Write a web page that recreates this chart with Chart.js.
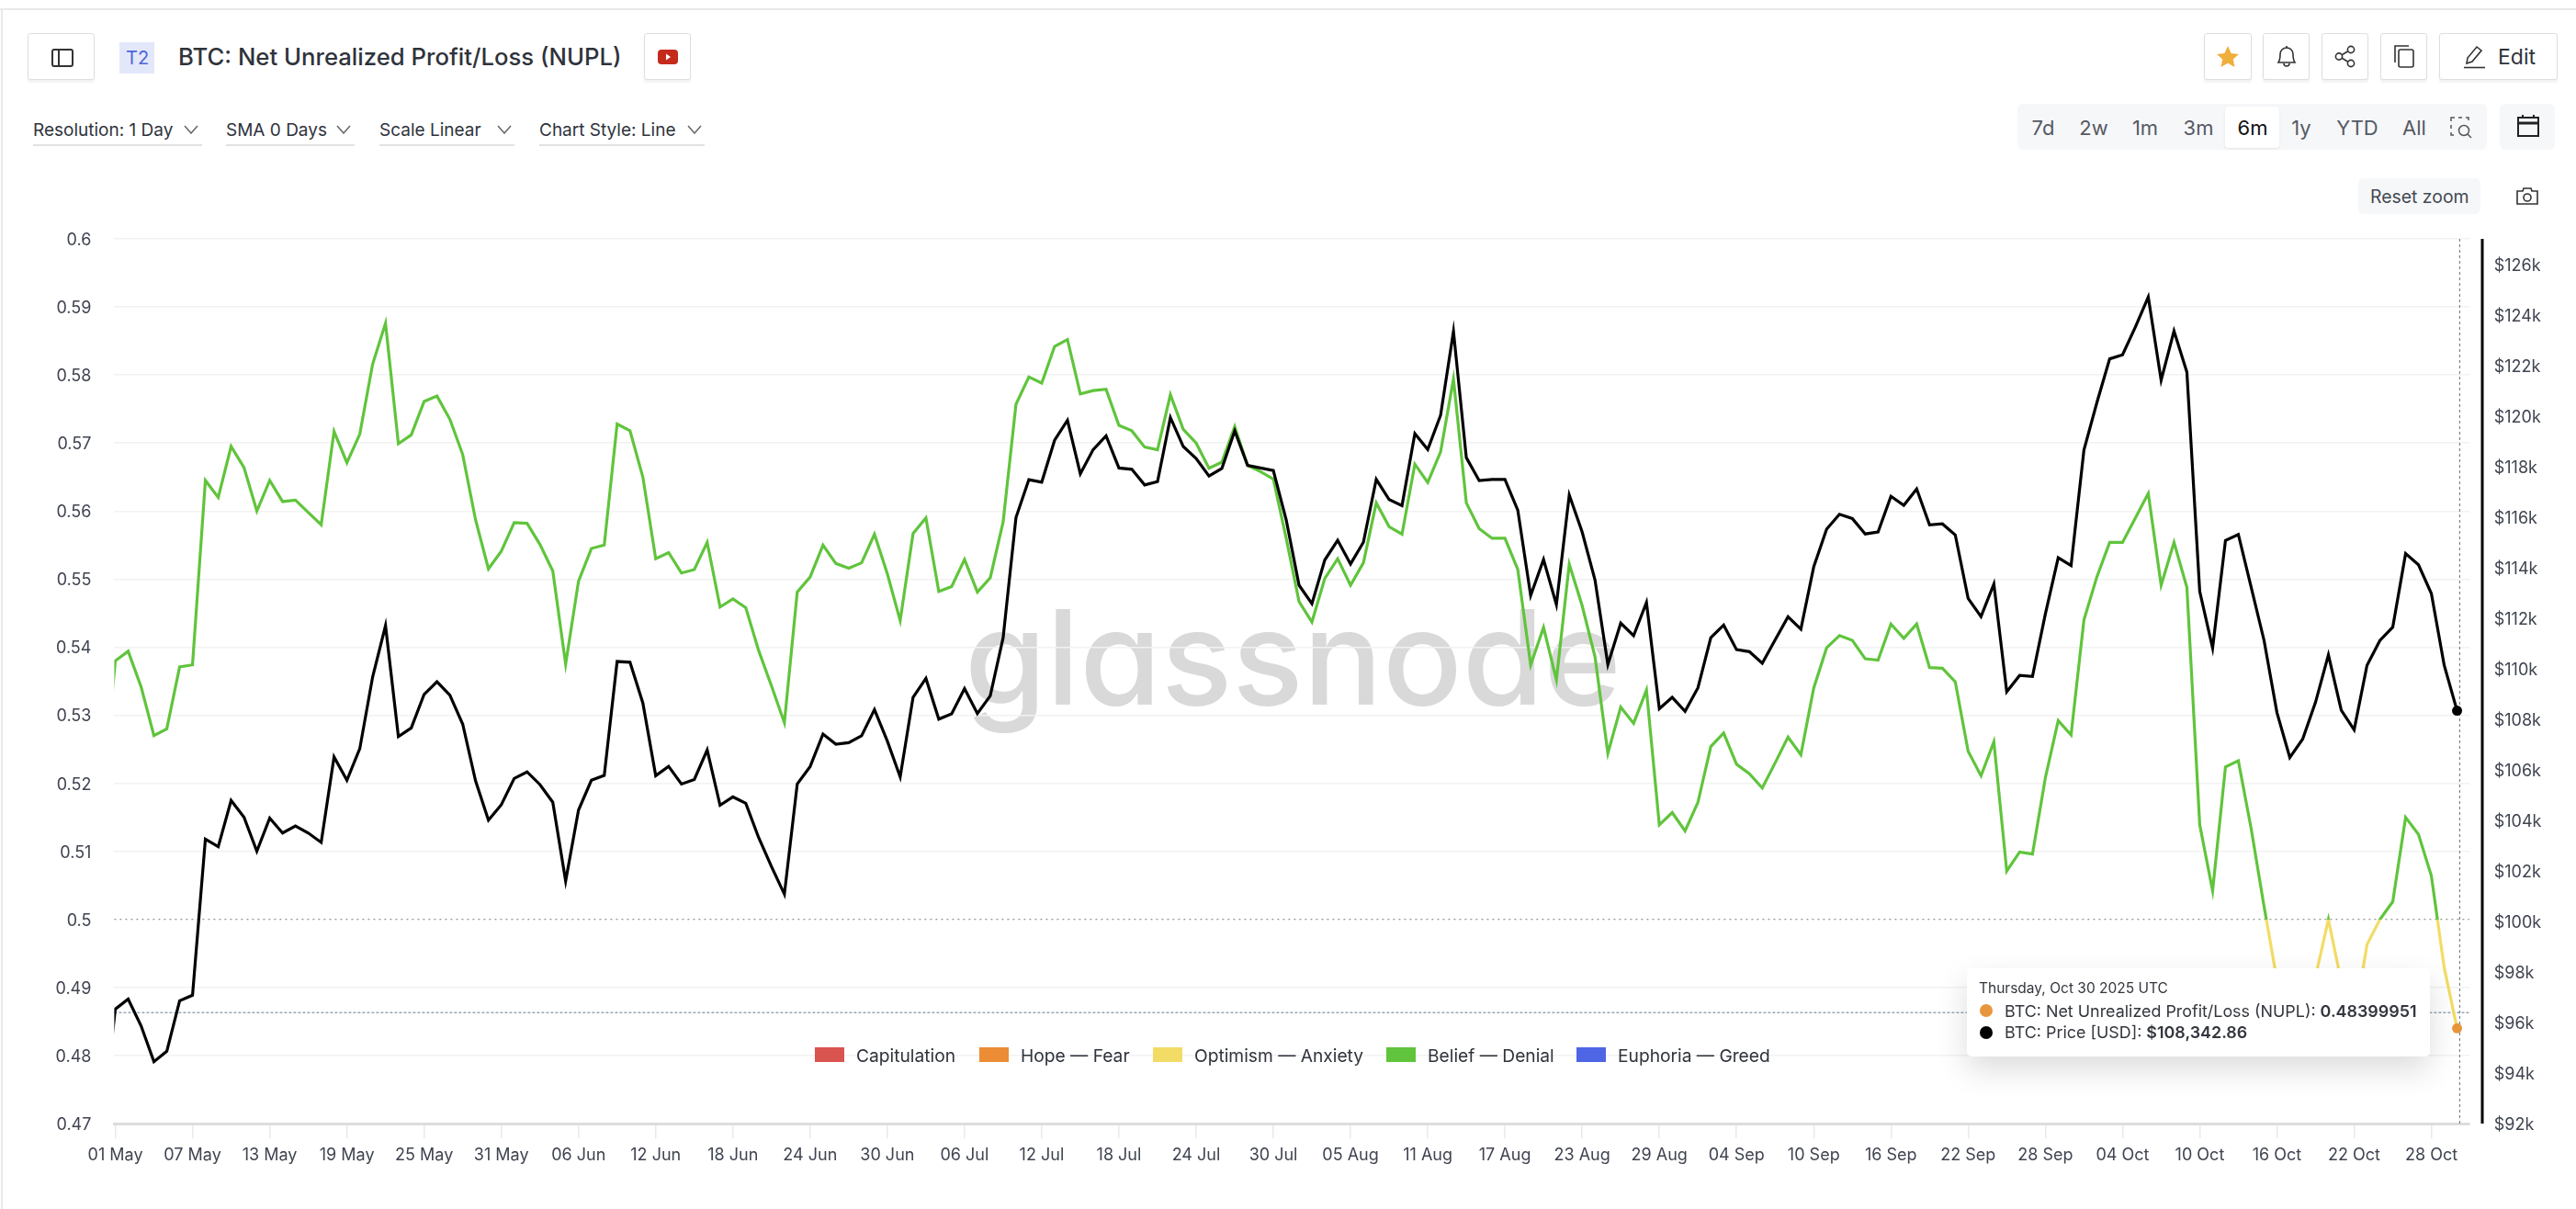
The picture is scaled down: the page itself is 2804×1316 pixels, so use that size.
<!DOCTYPE html>
<html lang="en">
<head>
<meta charset="utf-8">
<title>BTC: Net Unrealized Profit/Loss (NUPL)</title>
<script src="https://cdn.jsdelivr.net/npm/chart.js@4/dist/chart.umd.min.js"></script>
<style>
  html, body { margin: 0; padding: 0; background: #fff; }
  body { position: relative; width: 2804px; height: 1316px; overflow: hidden; font-family: Inter, sans-serif; color: #2f333b; }
  .abs { position: absolute; }
  .txt { position: absolute; white-space: nowrap; line-height: 1; transform: translateY(-50%); }
  #topRule { left: 0; top: 9px; width: 2804px; height: 2px; background: #e9e9e9; }
  #leftRule { left: 1px; top: 10px; width: 2px; height: 1306px; background: #e9e9e9; }
  .btn { position: absolute; top: 36px; height: 51px; box-sizing: border-box; border: 1px solid #dedede; border-radius: 3px; box-shadow: 0 3px 2px #f3f3f3; background: #fff; }
  .btn svg, .grey svg { position: absolute; }
  .grey { position: absolute; background: #f6f7f9; border-radius: 6px; }
  .drop { position: absolute; top: 124px; height: 33px; border-bottom: 2px solid #e2e2e2; }
  .drop span { position: absolute; left: 0; top: 17px; transform: translateY(-50%); font-size: 19px; line-height: 1; white-space: nowrap; }
  .drop svg { position: absolute; top: 12px; }
  .range { font-size: 22px; color: #555a63; transform: translate(-50%, -50%); }
  #rangeOn { left: 2422px; top: 116px; width: 59px; height: 45px; background: #fff; border-radius: 4px; box-shadow: 0 1px 3px #e4e4e4; }
  #watermark { left: 1050px; top: 644px; font-size: 143.6px; font-weight: 500; line-height: 1; color: #d9d9d9; font-feature-settings: "cv11" 1; white-space: nowrap; }
  canvas { position: absolute; left: 0; top: 0; }
  .swatch { position: absolute; top: 1140px; width: 32px; height: 16px; }
  .legend { top: 1150px; font-size: 19.2px; color: #2f333b; }
  #tip { left: 2141px; top: 1054px; width: 504px; height: 96px; background: #fff; border-radius: 5px; box-shadow: 0 14px 34px rgba(0,0,0,.14); }
  #tip .txt { color: #33363d; }
  #tip b { font-weight: 600; }
  .tipDot { position: absolute; width: 14px; height: 14px; border-radius: 50%; left: 14px; }
</style>
</head>
<body>
<div id="topRule" class="abs"></div>
<div id="leftRule" class="abs"></div>

<!-- header, left -->
<div class="btn" style="left:30px;width:73px">
  <svg style="left:25px;top:16px" width="24" height="20" viewBox="0 0 24 20" fill="none" stroke="#333" stroke-width="2"><rect x="1" y="1" width="22" height="18" rx="2"/><line x1="8" y1="1" x2="8" y2="19"/></svg>
</div>
<div class="abs" style="left:130px;top:46px;width:38px;height:34px;background:#e3e7fa"></div>
<div class="txt" style="left:137px;top:63px;font-size:20px;color:#4d65d9">T2</div>
<div class="txt" style="left:194px;top:62px;font-size:25.7px;font-weight:500" id="title">BTC: Net Unrealized Profit/Loss (NUPL)</div>
<div class="btn" style="left:701px;width:51px">
  <svg style="left:14px;top:17px" width="22" height="16" viewBox="0 0 22 16"><rect width="22" height="16" rx="4" fill="#c42b1c"/><path d="M9 4.5 L14 8 L9 11.5 Z" fill="#fff"/></svg>
</div>

<!-- dropdowns -->
<div class="drop" style="left:36px;width:184px"><span>Resolution: 1 Day</span>
  <svg style="left:164px" width="16" height="10" viewBox="0 0 16 10" fill="none" stroke="#666" stroke-width="1.5"><path d="M1 1 L8 9 L15 1"/></svg></div>
<div class="drop" style="left:246px;width:140px"><span>SMA 0 Days</span>
  <svg style="left:120px" width="16" height="10" viewBox="0 0 16 10" fill="none" stroke="#666" stroke-width="1.5"><path d="M1 1 L8 9 L15 1"/></svg></div>
<div class="drop" style="left:413px;width:147px"><span>Scale Linear</span>
  <svg style="left:128px" width="16" height="10" viewBox="0 0 16 10" fill="none" stroke="#666" stroke-width="1.5"><path d="M1 1 L8 9 L15 1"/></svg></div>
<div class="drop" style="left:587px;width:180px"><span>Chart Style: Line</span>
  <svg style="left:161px" width="16" height="10" viewBox="0 0 16 10" fill="none" stroke="#666" stroke-width="1.5"><path d="M1 1 L8 9 L15 1"/></svg></div>

<!-- header, right -->
<div class="btn" style="left:2399px;width:52px">
  <svg style="left:12px;top:12px" width="26" height="25" viewBox="0 0 26 25"><path d="M13 1 L16.6 9 L25 9.9 L18.8 15.6 L20.5 24 L13 19.8 L5.5 24 L7.2 15.6 L1 9.9 L9.4 9 Z" fill="#f0ae3c"/></svg>
</div>
<div class="btn" style="left:2463px;width:51px">
  <svg style="left:14px;top:12px" width="22" height="25" viewBox="0 0 22 25" fill="none" stroke="#333" stroke-width="1.6"><path d="M2 19 C4 16 4 13 4 10 C4 6 7 3 11 3 C15 3 18 6 18 10 C18 13 18 16 20 19 Z"/><path d="M11 1 V3"/><path d="M8 20 C8 24 14 24 14 20"/></svg>
</div>
<div class="btn" style="left:2527px;width:51px">
  <svg style="left:13px;top:12px" width="24" height="25" viewBox="0 0 24 25" fill="none" stroke="#333" stroke-width="1.6"><circle cx="18" cy="5" r="3.6"/><circle cx="5" cy="12.5" r="3.6"/><circle cx="18" cy="20" r="3.6"/><path d="M8.2 10.7 L14.8 6.8 M8.2 14.3 L14.8 18.2"/></svg>
</div>
<div class="btn" style="left:2591px;width:51px">
  <svg style="left:13px;top:12px" width="24" height="25" viewBox="0 0 24 25" fill="none" stroke="#333" stroke-width="1.6"><rect x="6" y="5" width="16" height="19" rx="2"/><path d="M2 19 V1 H17"/></svg>
</div>
<div class="btn" style="left:2655px;width:129px">
  <svg style="left:26px;top:12px" width="24" height="26" viewBox="0 0 24 26" fill="none" stroke="#333" stroke-width="1.6"><path d="M3 20 L4 14 L14 2 L19 6 L9 18 Z"/><path d="M0 24.5 H23"/></svg>
  <div class="txt" style="left:63px;top:25px;font-size:23px">Edit</div>
</div>

<!-- range picker -->
<div class="grey" style="left:2196px;top:113px;width:511px;height:50px"></div>
<div id="rangeOn" class="abs"></div>
<div class="txt range" style="left:2224px;top:139px">7d</div>
<div class="txt range" style="left:2279px;top:139px">2w</div>
<div class="txt range" style="left:2335px;top:139px">1m</div>
<div class="txt range" style="left:2393px;top:139px">3m</div>
<div class="txt range" style="left:2452px;top:139px;color:#111">6m</div>
<div class="txt range" style="left:2505px;top:139px">1y</div>
<div class="txt range" style="left:2566px;top:139px">YTD</div>
<div class="txt range" style="left:2628px;top:139px">All</div>
<svg class="abs" style="left:2667px;top:127px" width="24" height="24" viewBox="0 0 24 24" fill="none" stroke="#555" stroke-width="1.5"><path d="M1 5 V1 H5 M9 1 H13 M17 1 H20 V4 M1 9 V13 M1 17 V20 H4" stroke-dasharray="none"/><circle cx="15" cy="15" r="5.5"/><path d="M19 19 L23 23"/></svg>
<div class="grey" style="left:2721px;top:113px;width:60px;height:50px">
  <svg style="left:19px;top:12px" width="24" height="24" viewBox="0 0 24 24" fill="none" stroke="#222" stroke-width="2"><rect x="1" y="3" width="22" height="20"/><path d="M1 9 H23" stroke-width="3"/><path d="M6 0 V4 M18 0 V4"/></svg>
</div>
<div class="grey" style="left:2567px;top:194px;width:133px;height:39px"></div>
<div class="txt" style="left:2580px;top:215px;font-size:19.4px;color:#444951">Reset zoom</div>
<svg class="abs" style="left:2739px;top:204px" width="24" height="19" viewBox="0 0 24 19" fill="none" stroke="#333" stroke-width="1.6"><path d="M1 4 H7 L8 1 H16 L17 4 H23 V18 H1 Z"/><circle cx="12" cy="11" r="4"/></svg>

<!-- watermark sits behind the transparent canvas -->
<div id="watermark" class="abs">glassnode</div>

<canvas id="nuplChart" width="2804" height="1316"></canvas>

<!-- zone legend -->
<div class="swatch" style="left:887px;background:#d9534f"></div>
<div class="txt legend" style="left:932px">Capitulation</div>
<div class="swatch" style="left:1066px;background:#ec8c35"></div>
<div class="txt legend" style="left:1111px">Hope — Fear</div>
<div class="swatch" style="left:1255px;background:#f2dc66"></div>
<div class="txt legend" style="left:1300px">Optimism — Anxiety</div>
<div class="swatch" style="left:1509px;background:#60c43c"></div>
<div class="txt legend" style="left:1554px">Belief — Denial</div>
<div class="swatch" style="left:1716px;background:#4e66e6"></div>
<div class="txt legend" style="left:1761px">Euphoria — Greed</div>

<!-- hover tooltip -->
<div id="tip" class="abs">
  <div class="txt" style="left:13px;top:22px;font-size:15.5px">Thursday, Oct 30 2025 UTC</div>
  <div class="tipDot" style="top:39px;background:#e8963b"></div>
  <div class="txt" style="left:41px;top:47px;font-size:17.9px">BTC: Net Unrealized Profit/Loss (NUPL): <b>0.48399951</b></div>
  <div class="tipDot" style="top:63px;background:#000"></div>
  <div class="txt" style="left:41px;top:70px;font-size:17.9px">BTC: Price [USD]: <b>$108,342.86</b></div>
</div>

<script>
// x axis: one tick label every 6 days, day 0 is 01 May 2025
const tickLabels = ['01 May', '07 May', '13 May', '19 May', '25 May', '31 May', '06 Jun', '12 Jun', '18 Jun', '24 Jun',
    '30 Jun', '06 Jul', '12 Jul', '18 Jul', '24 Jul', '30 Jul', '05 Aug', '11 Aug', '17 Aug', '23 Aug',
    '29 Aug', '04 Sep', '10 Sep', '16 Sep', '22 Sep', '28 Sep', '04 Oct', '10 Oct', '16 Oct', '22 Oct', '28 Oct'];

const priceTicks = [92000, 94000, 96000, 98000, 100000, 102000, 104000, 106000, 108000, 110000,
    112000, 114000, 116000, 118000, 120000, 122000, 124000, 126000];

// daily values, first entry is 30 Apr (off the left edge), last is 30 Oct
const nuplValues = [0.5180,
    0.5380, 0.5394, 0.5342, 0.5270, 0.5280, 0.5371, 0.5374, 0.5645, 0.5620, 0.5695,
    0.5664, 0.5600, 0.5645, 0.5614, 0.5616, 0.5598, 0.5580, 0.5717, 0.5671, 0.5713,
    0.5816, 0.5876, 0.5699, 0.5712, 0.5761, 0.5769, 0.5735, 0.5683, 0.5587, 0.5515,
    0.5541, 0.5583, 0.5582, 0.5551, 0.5512, 0.5375, 0.5497, 0.5545, 0.5550, 0.5728,
    0.5718, 0.5650, 0.5530, 0.5539, 0.5509, 0.5514, 0.5554, 0.5459, 0.5471, 0.5458,
    0.5395, 0.5343, 0.5289, 0.5481, 0.5503, 0.5550, 0.5523, 0.5516, 0.5524, 0.5566,
    0.5508, 0.5439, 0.5567, 0.5590, 0.5482, 0.5489, 0.5529, 0.5481, 0.5502, 0.5584,
    0.5757, 0.5797, 0.5788, 0.5842, 0.5852, 0.5772, 0.5777, 0.5779, 0.5726, 0.5718,
    0.5694, 0.5690, 0.5771, 0.5720, 0.5700, 0.5663, 0.5672, 0.5724, 0.5667, 0.5658,
    0.5647, 0.5560, 0.5467, 0.5437, 0.5501, 0.5530, 0.5491, 0.5524, 0.5612, 0.5577,
    0.5566, 0.5669, 0.5642, 0.5687, 0.5794, 0.5612, 0.5574, 0.5560, 0.5560, 0.5514,
    0.5374, 0.5429, 0.5352, 0.5522, 0.5461, 0.5386, 0.5244, 0.5312, 0.5288, 0.5337,
    0.5139, 0.5157, 0.5130, 0.5172, 0.5254, 0.5274, 0.5228, 0.5214, 0.5193, 0.5230,
    0.5268, 0.5242, 0.5340, 0.5399, 0.5417, 0.5410, 0.5383, 0.5381, 0.5434, 0.5413,
    0.5434, 0.5370, 0.5369, 0.5349, 0.5247, 0.5211, 0.5261, 0.5071, 0.5099, 0.5096,
    0.5208, 0.5292, 0.5271, 0.5440, 0.5503, 0.5554, 0.5554, 0.5590, 0.5626, 0.5491,
    0.5554, 0.5488, 0.5139, 0.5042, 0.5224, 0.5233, 0.5133, 0.5019, 0.4911, 0.4815,
    0.4855, 0.4916, 0.5000, 0.4908, 0.4850, 0.4963, 0.5000, 0.5026, 0.5150, 0.5125,
    0.5064, 0.4929, 0.48399951];

const btcPrice = [92000,
    96530, 96930, 95870, 94450, 94860, 96860, 97080, 103260, 102960, 104790,
    104130, 102780, 104090, 103500, 103780, 103500, 103130, 106510, 105590, 106840,
    109680, 111710, 107320, 107660, 108990, 109490, 108960, 107810, 105560, 104010,
    104620, 105660, 105920, 105420, 104720, 101600, 104410, 105590, 105780, 110290,
    110260, 108650, 105770, 106140, 105440, 105620, 106790, 104600, 104930, 104680,
    103320, 102170, 101080, 105440, 106130, 107420, 107020, 107080, 107350, 108390,
    107140, 105720, 108870, 109620, 108010, 108220, 109220, 108230, 108930, 111230,
    115990, 117490, 117390, 119050, 119840, 117720, 118680, 119220, 117950, 117900,
    117280, 117410, 119950, 118800, 118330, 117630, 117930, 119420, 118050, 117950,
    117850, 115900, 113310, 112580, 114310, 115090, 114150, 115010, 117500, 116700,
    116460, 119310, 118680, 120040, 123360, 118360, 117450, 117500, 117500, 116280,
    112900, 114330, 112540, 116880, 115420, 113520, 110170, 111810, 111310, 112630,
    108420, 108870, 108320, 109250, 111230, 111730, 110760, 110680, 110220, 111150,
    112060, 111570, 114040, 115530, 116120, 115950, 115340, 115420, 116830, 116470,
    117120, 115700, 115740, 115300, 112790, 112070, 113360, 109090, 109740, 109700,
    112170, 114400, 114090, 118660, 120530, 122270, 122430, 123530, 124720, 121420,
    123370, 121750, 113060, 110820, 115080, 115320, 113220, 111120, 108270, 106490,
    107220, 108680, 110550, 108360, 107590, 110140, 111120, 111650, 114560, 114120,
    112980, 110140, 108342.86];

const zoneColors = { belief: '#60c43c', optimism: '#f2dc66', hover: '#e8963b' };
const tickColor = '#3f4450';

// same day index on both series, 30 Apr is -1
function toPoints(values) {
    return values.map((y, i) => ({ x: i - 1, y: y }));
}

// NUPL changes colour where it crosses the 0.5 zone border
function zoneGradient(context) {
    const chart = context.chart;
    const area = chart.chartArea;
    if (!area) return zoneColors.belief;
    const gradient = chart.ctx.createLinearGradient(0, area.top, 0, area.bottom);
    const stop = (chart.scales.y.getPixelForValue(0.5) - area.top) / (area.bottom - area.top);
    gradient.addColorStop(0, zoneColors.belief);
    gradient.addColorStop(stop, zoneColors.belief);
    gradient.addColorStop(stop, zoneColors.optimism);
    gradient.addColorStop(1, zoneColors.optimism);
    return gradient;
}

function lastPointOnly(size) {
    return ctx => (ctx.dataIndex === ctx.dataset.data.length - 1 ? size : 0);
}

function hLine(ctx, area, y, color, width, dash) {
    ctx.save();
    ctx.strokeStyle = color;
    ctx.lineWidth = width;
    ctx.setLineDash(dash);
    ctx.beginPath();
    ctx.moveTo(area.left, y);
    ctx.lineTo(area.right, y);
    ctx.stroke();
    ctx.restore();
}

// 0.5 reference, crosshair and the thick price axis
const overlayPlugin = {
    id: 'overlay',
    beforeDatasetsDraw(chart) {
        const { ctx, chartArea: area, scales } = chart;
        hLine(ctx, area, scales.y.getPixelForValue(0.5), '#777', 1.2, [2, 4]);
        hLine(ctx, area, scales.y.getPixelForValue(0.4863), '#98a6b5', 1.5, [3, 2]);

        const x = scales.x.getPixelForValue(182.2);
        ctx.save();
        ctx.strokeStyle = '#666c75';
        ctx.lineWidth = 1;
        ctx.setLineDash([3, 3]);
        ctx.beginPath();
        ctx.moveTo(x, area.top);
        ctx.lineTo(x, area.bottom);
        ctx.stroke();
        ctx.setLineDash([]);
        ctx.strokeStyle = '#000';
        ctx.lineWidth = 3;
        ctx.beginPath();
        ctx.moveTo(area.right + 14, area.top);
        ctx.lineTo(area.right + 14, area.bottom);
        ctx.stroke();
        ctx.restore();
    }
};

new Chart(document.getElementById('nuplChart').getContext('2d'), {
    type: 'line',
    data: {
        datasets: [{
            label: 'BTC: Price [USD]',
            data: toPoints(btcPrice),
            yAxisID: 'y2',
            borderColor: '#000',
            borderWidth: 3.2,
            borderJoinStyle: 'miter',
            pointRadius: lastPointOnly(5.5),
            pointBackgroundColor: '#000',
            pointBorderWidth: 0,
            order: 1
        }, {
            label: 'BTC: Net Unrealized Profit/Loss (NUPL)',
            data: toPoints(nuplValues),
            yAxisID: 'y',
            borderColor: zoneGradient,
            borderWidth: 3.2,
            borderJoinStyle: 'miter',
            pointRadius: lastPointOnly(5.5),
            pointBackgroundColor: zoneColors.hover,
            pointBorderWidth: 0,
            order: 2
        }]
    },
    options: {
        responsive: false,
        devicePixelRatio: 1,
        animation: false,
        events: [],
        layout: { padding: { top: 260, left: 0, right: 0, bottom: 0 } },
        plugins: { legend: { display: false }, tooltip: { enabled: false } },
        scales: {
            x: {
                type: 'linear',
                min: -0.08,
                max: 182.96,
                afterFit: scale => { scale.height = 93; },
                border: { color: '#dcdcdc', width: 3 },
                grid: { drawOnChartArea: false, tickLength: 16, tickColor: '#e9e9e9', lineWidth: 1.5 },
                ticks: {
                    stepSize: 6,
                    includeBounds: false,
                    autoSkip: false,
                    maxRotation: 0,
                    padding: 8,
                    color: tickColor,
                    font: { family: 'Inter', size: 18 },
                    callback: value => tickLabels[value / 6]
                }
            },
            y: {
                position: 'left',
                min: 0.47,
                max: 0.6,
                afterFit: scale => { scale.width = 124.4; },
                border: { display: false },
                grid: {
                    drawTicks: false,
                    lineWidth: 1.5,
                    color: ctx => (Math.abs(ctx.tick.value - 0.5) < 1e-6 ? 'transparent' : '#f2f2f2')
                },
                ticks: {
                    stepSize: 0.01,
                    padding: 25,
                    labelOffset: 1.5,
                    color: tickColor,
                    font: { family: 'Inter', size: 18 },
                    callback: value => String(+value.toFixed(2))
                }
            },
            y2: {
                position: 'right',
                min: 92000,
                max: 127020,
                afterFit: scale => { scale.width = 116; },
                afterBuildTicks: scale => { scale.ticks = priceTicks.map(value => ({ value: value })); },
                border: { display: false },
                grid: { display: false, drawTicks: false },
                ticks: {
                    autoSkip: false,
                    padding: 26.7,
                    labelOffset: 1.5,
                    color: tickColor,
                    font: { family: 'Inter', size: 18 },
                    callback: value => '$' + value / 1000 + 'k'
                }
            }
        }
    },
    plugins: [overlayPlugin]
});
</script>
</body>
</html>
